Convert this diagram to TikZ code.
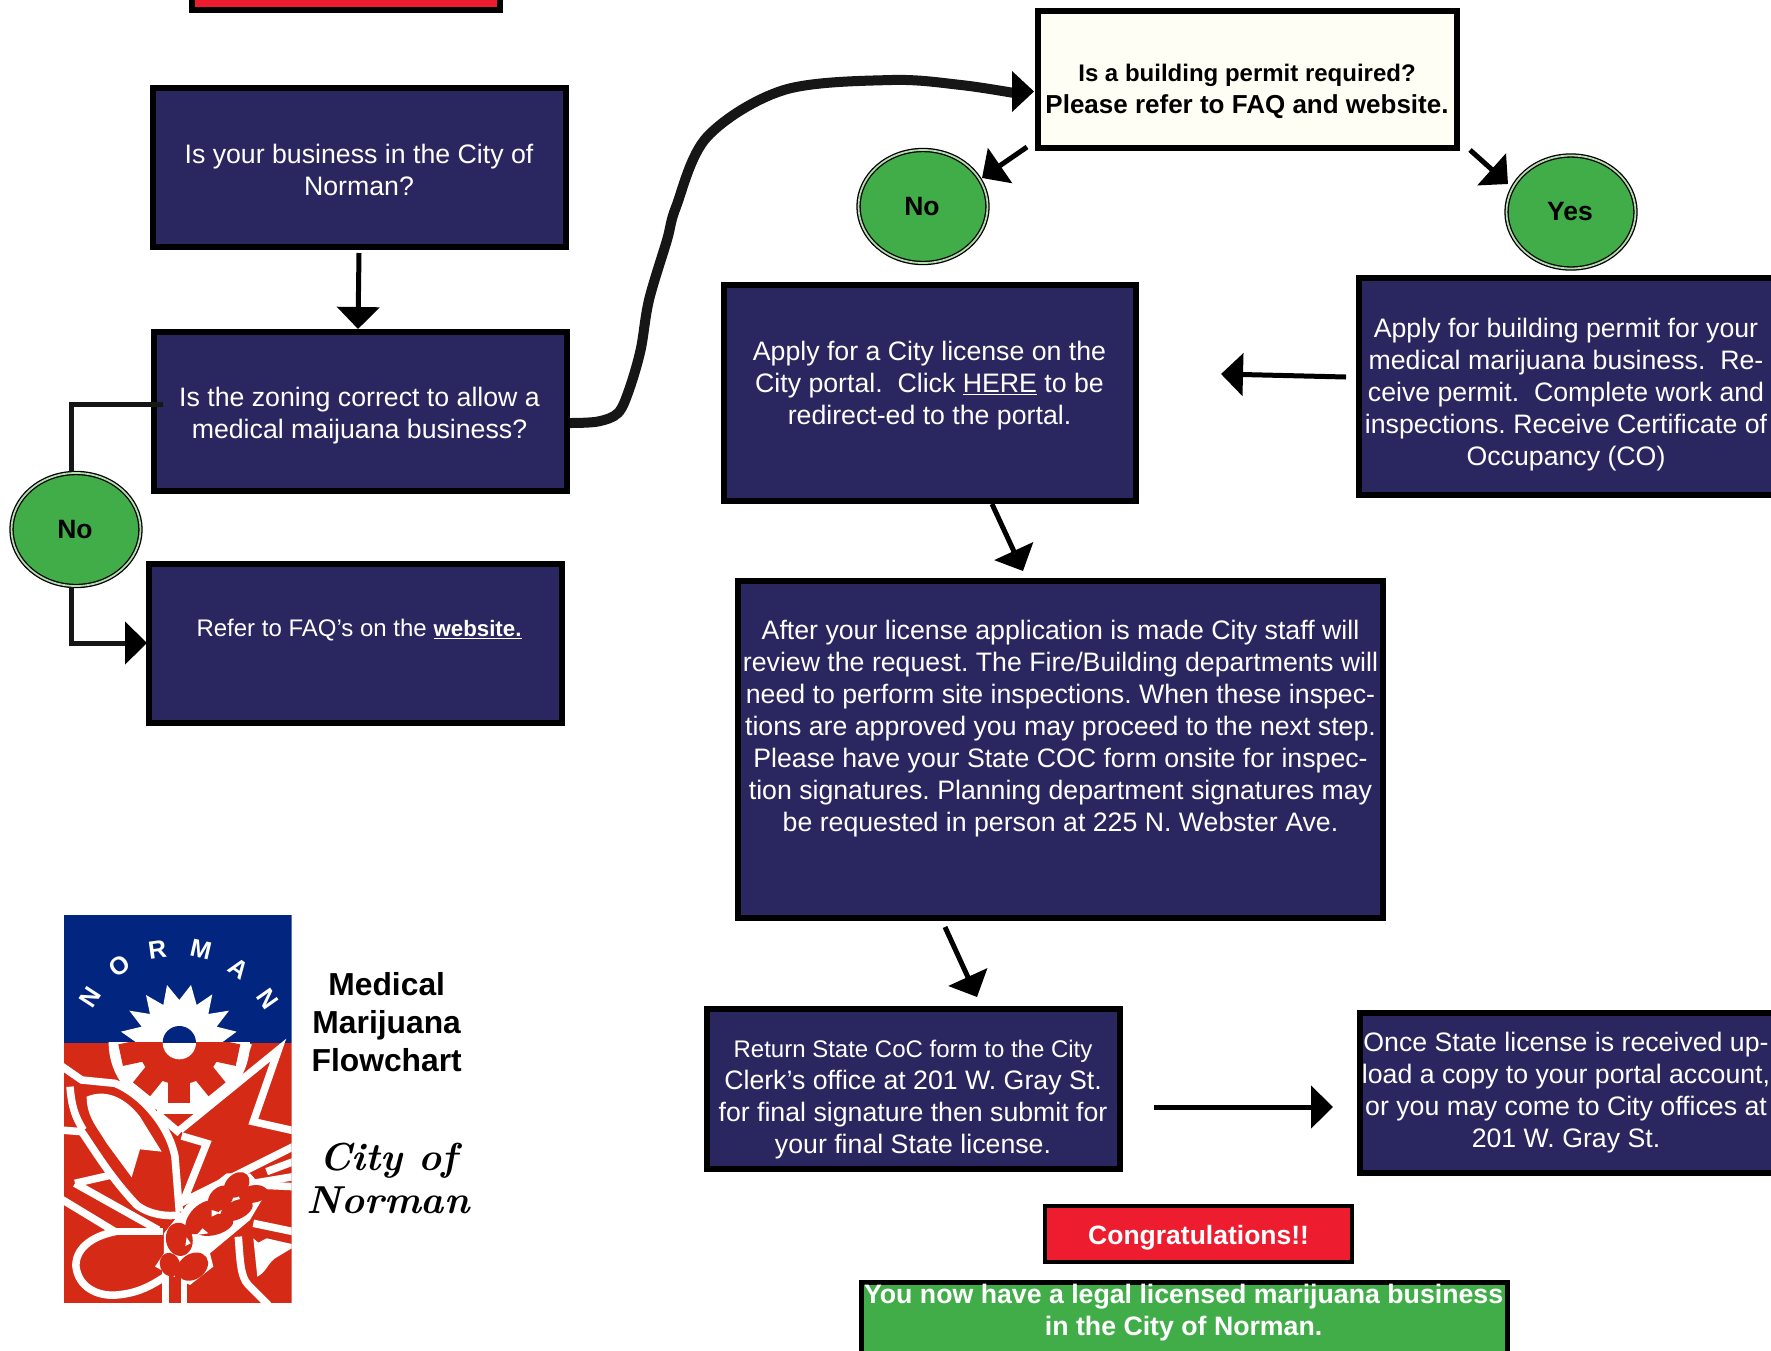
\documentclass[tikz,border=0pt]{standalone}
\usepackage{fontspec}
\setmainfont{Liberation Sans}
\newfontfamily\handfont{Latin Modern Roman}
\usetikzlibrary{arrows.meta,shapes.geometric}
\definecolor{navy}{HTML}{2A2760}
\definecolor{gogreen}{HTML}{41AD49}
\definecolor{alarm}{HTML}{ED1C2E}
\definecolor{cream}{HTML}{FFFEF5}
\definecolor{ring}{HTML}{B5DDB0}
\definecolor{ink}{HTML}{161616}
\definecolor{logoblue}{HTML}{02267F}
\definecolor{logored}{HTML}{D42A16}
\newcommand{\fs}[1]{\fontsize{#1}{32}\selectfont\frenchspacing}
\newcommand{\bx}[6]{\node[#1,minimum width={(#5-#3-6)*1pt},minimum height={(#6-#4-6)*1pt}] (#2) at ({(#3+#5)/2},{(#4+#6)/2}) {};}
\tikzset{
  panel/.style={draw=black,line width=6pt,fill=navy,inner sep=0pt,outer sep=0pt},
  lbl/.style={text=white,align=center,inner sep=0pt,font=\fs{26.7}},
  blbl/.style={text=black,align=center,inner sep=0pt,font=\fs{26}\bfseries},
  yesno/.style={ellipse,draw=black,line width=1.3pt,double=ring,double distance=1.8pt,fill=gogreen,inner sep=0pt,minimum width=129pt,minimum height=113pt,font=\fs{26.5}\bfseries,text=black},
  conn/.style={line width=5pt,draw=black,-{Triangle[length=22pt,width=42pt,color=black]}},
  logostroke/.style={draw=white,line width=7.5pt,line join=miter},
  logofill/.style={fill=white,draw=none},
  grain/.style={fill=logored,draw=none},
}
\begin{document}
\begin{tikzpicture}[x=1pt,y=-1pt]
\useasboundingbox (0,0) rectangle (1771,1350);
% boxes
\bx{panel,fill=alarm}{topred}{189}{-30}{503}{13}
\bx{panel}{b1}{150}{85}{569}{250}
\bx{panel}{b2}{151}{329}{570}{494}
\bx{panel}{b3}{146}{561}{565}{726}
\bx{panel,fill=cream}{permit}{1035}{8}{1460}{151}
\bx{panel}{apply}{721}{282}{1139}{504}
\bx{panel}{bldg}{1356}{275}{1790}{498}
\bx{panel}{big}{735}{578}{1386}{921}
\bx{panel}{ret}{704}{1006}{1123}{1172}
\bx{panel}{once}{1357}{1010}{1790}{1176}
\bx{panel,fill=alarm,line width=4pt}{congrats}{1042}{1203}{1355}{1265}
\bx{panel,fill=gogreen,line width=5pt}{legal}{858}{1279.5}{1510}{1370}
% texts
\node[lbl] (t1) at (359,170) {Is your business in the City of\\Norman?};
\node[lbl] (t2) at (359.5,416) {Is the zoning correct to allow a\\medical maijuana business?};
\node[lbl,font=\fs{24}] (t3) at (359,630) {Refer to FAQ’s on the {\fs{22.3}\textbf{\underline{website.}}}};
\node[blbl] (tp) at (1247,91) {{\fs{24}\bfseries Is a building permit required?}\\Please refer to FAQ and website.};
\node[lbl] (ta) at (929.5,385.5) {Apply for a City license on the\\City portal.\ \ Click \underline{HERE} to be\\redirect-ed to the portal.};
\node[lbl] (tb) at (1566,394.5) {Apply for building permit for your\\medical marijuana business.\ \ Re-\\ceive permit.\ \ Complete work and\\inspections. Receive Certificate of\\Occupancy (CO)};
\node[lbl] (tc) at (1060.5,729) {After your license application is made City staff will\\review the request. The Fire/Building departments will\\need to perform site inspections. When these inspec-\\tions are approved you may proceed to the next step.\\Please have your State COC form onsite for inspec-\\tion signatures. Planning department signatures may\\be requested in person at 225 N. Webster Ave.};
\node[lbl] (td) at (913,1099.5) {{\fs{24}Return State CoC form to the City}\\Clerk’s office at 201 W. Gray St.\\for final signature then submit for\\your final State license.};
\node[lbl] (te) at (1566,1093) {Once State license is received up-\\load a copy to your portal account,\\or you may come to City offices at\\201 W. Gray St.};
\node[lbl,font=\fs{26.5}\bfseries] (tf) at (1198.6,1238) {Congratulations!!};
\node[lbl,font=\fs{26.7}\bfseries] (tg) at (1183.6,1312.5) {You now have a legal licensed marijuana business\\in the City of Norman.};
% yes / no
\node[yesno] (no1) at (76,529.5) {\hspace*{-2pt}No};
\node[yesno] (no2) at (923,206.5) {\hspace*{-2pt}No};
\node[yesno] (yes) at (1571,212) {\hspace*{-2pt}Yes};
% connector ends
\coordinate (a1) at (359,253);
\coordinate (a2) at (358,329);
\coordinate (l1) at (163,404);
\coordinate (l2) at (71.5,472);
\coordinate (l3) at (71.5,587);
\coordinate (l4) at (147,643);
\coordinate (c1) at (570,423);
\coordinate (c2) at (1014,93);
\coordinate (c4) at (1034,91.5);
\coordinate (n1) at (1027,147);
\coordinate (n2) at (982,178);
\coordinate (y1) at (1470,150);
\coordinate (y2) at (1508,184);
\coordinate (r1) at (1346,377);
\coordinate (r2) at (1221,374);
\coordinate (s1) at (992,504);
\coordinate (s2) at (1023,571);
\coordinate (u1) at (945,927);
\coordinate (u2) at (977,997);
\coordinate (v1) at (1153.5,1107);
\coordinate (v2) at (1333,1107);
% connectors
\draw[conn] (a1) -- (a2);
\draw[line width=5pt,ink] (l1) -| (l2);
\draw[conn,ink] (l3) |- (l4);
\draw[line width=10pt,ink] plot[smooth,tension=0.55] coordinates {(c1) (598,421.5) (618,413) (629,390) (640.6,350) (649,300) (667,240) (676,207) (707,137) (784,90) (892,80) (961,85) (c2)};
\fill[black] (1012,71) -- (c4) -- (1012,112) -- cycle;
\draw[conn] (n1) -- (n2);
\draw[conn] (y1) -- (y2);
\draw[conn] (r1) -- (r2);
\draw[conn] (s1) -- (s2);
\draw[conn] (u1) -- (u2);
\draw[conn] (v1) -- (v2);
% logo
\begin{scope}[shift={(40,890)},x=0.3333pt,y=-0.3333pt]
\clip (72,75) rectangle (755,1238);
\fill[logoblue] (72,75) rectangle (755,458);
\fill[logored] (72,458) rectangle (755,1238);
% sun
\fill[white] (243,425) -- (305,410) -- (268,362) -- (330,372) -- (318,315) -- (370,345) -- (381,285) -- (418,330) -- (453,285) -- (470,345) -- (517,313) -- (505,372) -- (567,362) -- (530,410) -- (590,425) -- (545,458) -- (290,458) -- cycle;
% gear
\begin{scope}
\clip (72,458) rectangle (755,1238);
\fill[white] (418,458) circle [radius=212];
\fill[logored] (418,458) circle [radius=125];
\foreach \a in {-78,-39,0,39,78} {
  \begin{scope}[shift={(418,458)},rotate=\a]
  \fill[logored] (-33,0) rectangle (33,180);
  \end{scope}
}
\fill[white] (418,458) circle [radius=50];
\end{scope}
\begin{scope}
\clip (72,75) rectangle (755,458);
\fill[logoblue] (418,458) circle [radius=50];
\end{scope}
% bolt
\draw[logostroke] (420,720) -- (715,480) -- (640,695) -- (760,722);
\draw[logostroke] (600,530) -- (625,460);
\draw[logostroke] (760,770) -- (430,935) -- (500,760) -- (425,738);
\draw[logostroke] (680,845) -- (760,815);
% pod
\draw[logostroke] (60,525) -- (125,570) -- (225,580) .. controls (300,610) and (385,700) .. (405,800) -- (418,965);
\draw[logostroke] (90,590) .. controls (95,650) and (105,680) .. (130,720);
\draw[logostroke] (60,720) -- (125,725) .. controls (170,790) and (210,860) .. (290,945) .. controls (330,975) and (380,980) .. (420,975);
\draw[logostroke] (105,880) -- (215,855);
\draw[logostroke] (105,880) -- (355,1020);
\draw[logostroke] (350,660) -- (470,660);
\draw[logostroke] (350,670) -- (420,730);
\fill[logofill] (140,620) .. controls (210,590) and (270,640) .. (300,680) -- (365,785) -- (300,778) -- (275,862) -- (200,760) .. controls (170,710) and (140,680) .. (140,620) -- cycle;
% bird
\draw[logostroke] (60,925) -- (225,1025) .. controls (150,1040) and (105,1080) .. (108,1130) .. controls (115,1190) and (170,1220) .. (230,1215) .. controls (290,1210) and (330,1190) .. (375,1160);
\draw[logostroke] (225,1025) -- (370,1025);
% right side
\draw[logostroke] (640,1000) -- (760,1025);
\draw[logostroke] (595,1040) .. controls (600,1100) and (600,1160) .. (625,1185) -- (685,1245);
\fill[logofill] (640,1045) -- (655,1058) -- (680,1045) -- (755,1062) -- (755,1075) -- (705,1105) .. controls (680,1125) and (680,1145) .. (652,1160) -- cycle;
\draw[logostroke] (640,880) -- (760,860);
\draw[logostroke] (650,885) -- (760,890);
% wheat
\draw[draw=white,line width=7pt] (378,1140) -- (378,1245);
\draw[draw=white,line width=7pt] (430,1150) -- (430,1245);
\fill[white] (372,1030) -- (440,945) -- (560,850) -- (630,850) -- (680,905) -- (630,990) -- (570,1040) -- (510,1090) -- (520,1130) -- (450,1185) -- (345,1130) -- (372,1090) -- cycle;
\foreach \x/\y/\rx/\ry/\r in {418/1048/40/50/10,487/982/62/36/45,542/925/44/32/45,590/885/44/32/45,640/912/44/26/10,590/960/52/28/25,522/1005/60/30/15,390/1124/30/36/20,458/1130/50/38/35} {
  \fill[grain] (\x,\y) ellipse [x radius=\rx,y radius=\ry,rotate=\r];
}
\fill[grain] (405,1150) rectangle (424,1238);
\fill[white] (440,1042) -- (452,1060) -- (436,1068) -- cycle;
\fill[white] (488,1015) -- (505,1030) -- (470,1035) -- cycle;
\fill[white] (515,960) -- (540,968) -- (515,980) -- cycle;
\end{scope}
\begin{scope}[shift={(40,890)},x=0.3333pt,y=-0.3333pt]
\foreach \l/\x/\y/\r in {N/152/322/57,O/238/228/35,R/352/178/8,M/483/178/-13,A/597/235/-35,N/683/328/-55} {
  \node[text=white,inner sep=0pt,font=\fontsize{25}{26}\selectfont\bfseries,rotate=\r] at (\x,\y) {\l};
}
\end{scope}
\node[align=center,inner sep=0pt,font=\fontsize{31.8}{38}\selectfont\bfseries] (ttl) at (386.7,1022) {Medical\\Marijuana\\Flowchart};
\node[align=center,inner sep=0pt,font=\fontsize{39}{43}\selectfont\handfont\bfseries\itshape] (cty) at (388,1178) {City of\\Norman};
\end{tikzpicture}
\end{document}
